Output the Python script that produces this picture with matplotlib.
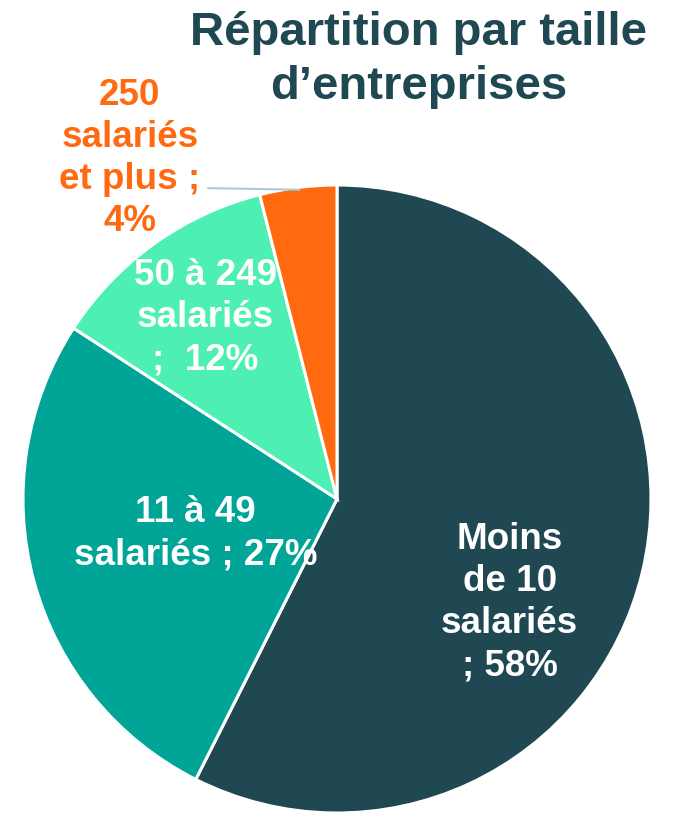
import numpy as np
import matplotlib
matplotlib.use("Agg")
import matplotlib.pyplot as plt

plt.rcParams["font.family"] = ["Liberation Sans", "DejaVu Sans"]

categories = ["Moins\nde 10\nsalariés\n; 58%", "11 à 49\nsalariés ; 27%",
              "50 à 249\nsalariés\n;  12%", "250\nsalariés\net plus ;\n4%"]
values = [58, 27, 12, 4]
colors = ["#1F4853", "#00A597", "#4DEFB3", "#FF6A10"]
label_colors = ["white", "white", "white", "#FF6A10"]
# label positions relative to pie centre (radius units)
label_pos = [(0.55, -0.33), (-0.45, -0.11), (-0.42, 0.577), (-0.66, 1.085)]

fig = plt.figure(figsize=(6.75, 8.14), dpi=100)
r_px = 314
cx, cy = 337, 814 - 499
ax = fig.add_axes([(cx - r_px) / 675, (cy - r_px) / 814, 2 * r_px / 675, 2 * r_px / 814])

wedges, _ = ax.pie(values, colors=colors, startangle=90, counterclock=False,
                   radius=1, wedgeprops=dict(edgecolor="white", linewidth=2.2))
ax.set_xlim(-1, 1)
ax.set_ylim(-1, 1)
ax.set_aspect("equal")
ax.axis("off")

for lab, (x, y), c in zip(categories, label_pos, label_colors):
    ax.text(x, y, lab, ha="center", va="center", color=c, fontsize=26.5,
            fontweight="bold", linespacing=1.26, clip_on=False)

# leader line for the small slice
ax.plot([-0.41, -0.12], [0.99, 0.985], color="#A6CFD5", lw=1.5, clip_on=False)

fig.text(419 / 675, 1 - 60 / 814, "Répartition par taille\nd’entreprises",
         ha="center", va="center", color="#1F4853", fontsize=34,
         fontweight="bold", linespacing=1.3)

fig.savefig("out.png", dpi=100)
